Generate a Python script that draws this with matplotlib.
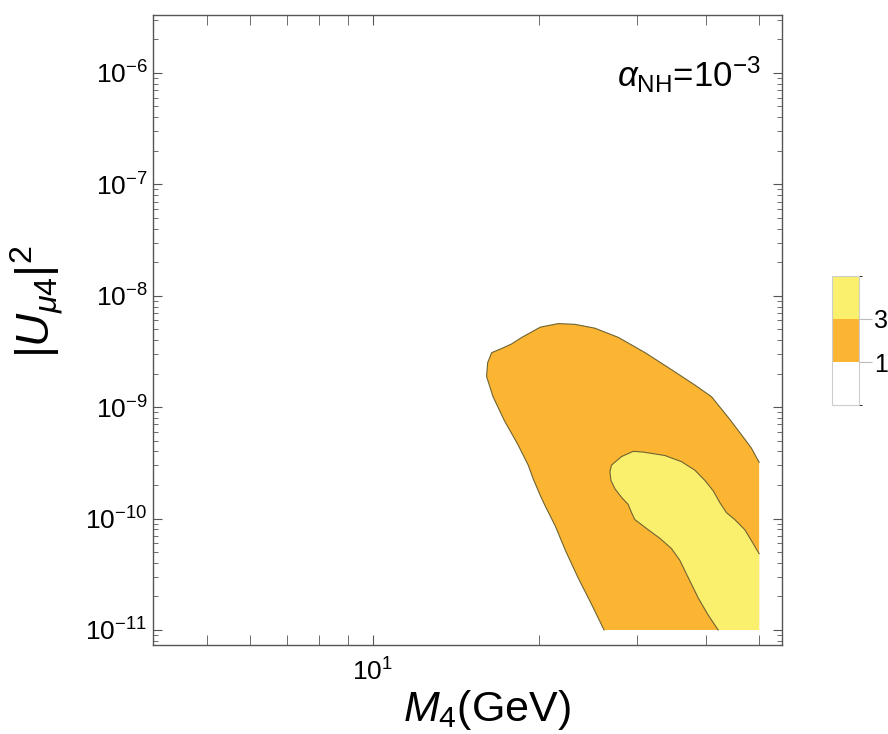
import matplotlib
matplotlib.use("Agg")
import matplotlib.pyplot as plt
from matplotlib.colors import ListedColormap, BoundaryNorm
from matplotlib.cm import ScalarMappable
from matplotlib.ticker import LogLocator, NullFormatter

plt.rcParams['font.family'] = ['Liberation Sans', 'DejaVu Sans']
plt.rcParams['mathtext.fontset'] = 'custom'
plt.rcParams['mathtext.rm'] = 'Liberation Sans'
plt.rcParams['mathtext.it'] = 'Liberation Sans:italic'
plt.rcParams['mathtext.bf'] = 'Liberation Sans:bold'

# plot range of the scan
M_max = 50.0
U_min = 1e-11

# contour at level 1 (orange region boundary), M4 in GeV
outer_M = [26.2, 24.9, 23.5, 22.3, 21.4, 20.5, 20.1, 19.5, 19.1, 18.3, 17.3, 16.5,
           16.06, 16.13, 16.4, 17.1, 17.8, 18.6, 20.1, 21.65, 23.2, 25.2, 27.8,
           31.1, 34.7, 38.25, 41.0, 43.95, 46.4, 48.4, 50.0]
outer_U = [1e-11, 1.68e-11, 2.96e-11, 5.19e-11, 8.5e-11, 1.30e-10, 1.60e-10, 2.28e-10,
           3.02e-10, 4.61e-10, 7.55e-10, 1.24e-9, 1.88e-9, 2.50e-9, 3.08e-9, 3.36e-9,
           3.68e-9, 4.23e-9, 5.23e-9, 5.62e-9, 5.54e-9, 5.12e-9, 4.23e-9, 3.08e-9,
           2.17e-9, 1.58e-9, 1.24e-9, 8.1e-10, 5.69e-10, 4.30e-10, 3.20e-10]

# contour at level 3 (yellow region boundary)
inner_M = [42.15, 40.44, 38.79, 37.2, 35.94, 34.7, 33.06, 31.5, 29.79, 29.38, 28.97,
           28.18, 27.42, 26.96, 26.85, 27.03, 28.18, 29.58, 30.85, 33.76, 36.18,
           38.25, 39.88, 41.28, 42.45, 43.63, 45.18, 47.11, 48.76, 50.0]
inner_U = [1e-11, 1.36e-11, 1.94e-11, 2.96e-11, 4.21e-11, 5.38e-11, 6.65e-11, 7.93e-11,
           9.79e-11, 1.13e-10, 1.34e-10, 1.55e-10, 1.85e-10, 2.20e-10, 2.63e-10,
           3.02e-10, 3.60e-10, 4.01e-10, 3.95e-10, 3.68e-10, 3.24e-10, 2.72e-10,
           2.20e-10, 1.78e-10, 1.39e-10, 1.13e-10, 9.79e-11, 7.93e-11, 5.98e-11, 4.84e-11]

levels = [0, 1, 3, 5]
level_colors = ['#ffffff', '#fbb532', '#fbef6e']
line_color = '#6e6432'

fig = plt.figure(figsize=(8.88, 7.34), dpi=100)
ax = fig.add_axes([153/888, 1-645/734, 629/888, 630/734])

ax.fill(outer_M + [M_max], outer_U + [U_min], color=level_colors[1], lw=0)
ax.fill(inner_M + [M_max], inner_U + [U_min], color=level_colors[2], lw=0)
ax.plot(outer_M, outer_U, color=line_color, lw=0.8)
ax.plot(inner_M, inner_U, color=line_color, lw=0.8)

ax.set_xscale('log')
ax.set_yscale('log')
ax.set_xlim(4.0, 55.0)
ax.set_ylim(10**-11.135, 10**-5.48)

ax.xaxis.set_minor_locator(LogLocator(base=10, subs=range(2, 10), numticks=20))
ax.yaxis.set_minor_locator(LogLocator(base=10, subs=range(2, 10), numticks=20))
ax.xaxis.set_minor_formatter(NullFormatter())
ax.yaxis.set_minor_formatter(NullFormatter())

for s in ax.spines.values():
    s.set_color('#555555')
    s.set_linewidth(1.0)
ax.tick_params(which='both', direction='in', top=True, right=True,
               color='#555555', labelsize=19, labelcolor='black')
ax.tick_params(axis='x', which='both', length=7, pad=10)
ax.tick_params(axis='y', which='major', length=6.5, pad=4)
ax.tick_params(axis='y', which='minor', length=3.6)

ax.set_xlabel(r'$M_4$(GeV)', fontsize=31)
ax.xaxis.set_label_coords(0.53, -0.068)
ax.set_ylabel(r'$|U_{\mu 4}|^2$', fontsize=33)
ax.yaxis.set_label_coords(-0.14, 0.545)

ax.text(0.967, 0.905, r'$\alpha_{\mathrm{NH}}$=10$^{-3}$', transform=ax.transAxes,
        ha='right', va='center', fontsize=25)

# legend bar
cax = fig.add_axes([832/888, 1-405/734, 27/888, 129/734])
cmap = ListedColormap(level_colors)
norm = BoundaryNorm(levels, cmap.N)
cb = fig.colorbar(ScalarMappable(norm=norm, cmap=cmap), cax=cax,
                  spacing='uniform', ticks=[1, 3])
cb.outline.set_edgecolor('#cccccc')
cb.outline.set_linewidth(0.8)
cb.ax.tick_params(length=9, color='#bbbbbb', labelsize=18, width=0.8, pad=2)
cb.ax.set_yticklabels(['1', '3'])

fig.savefig('out.png', dpi=100)
